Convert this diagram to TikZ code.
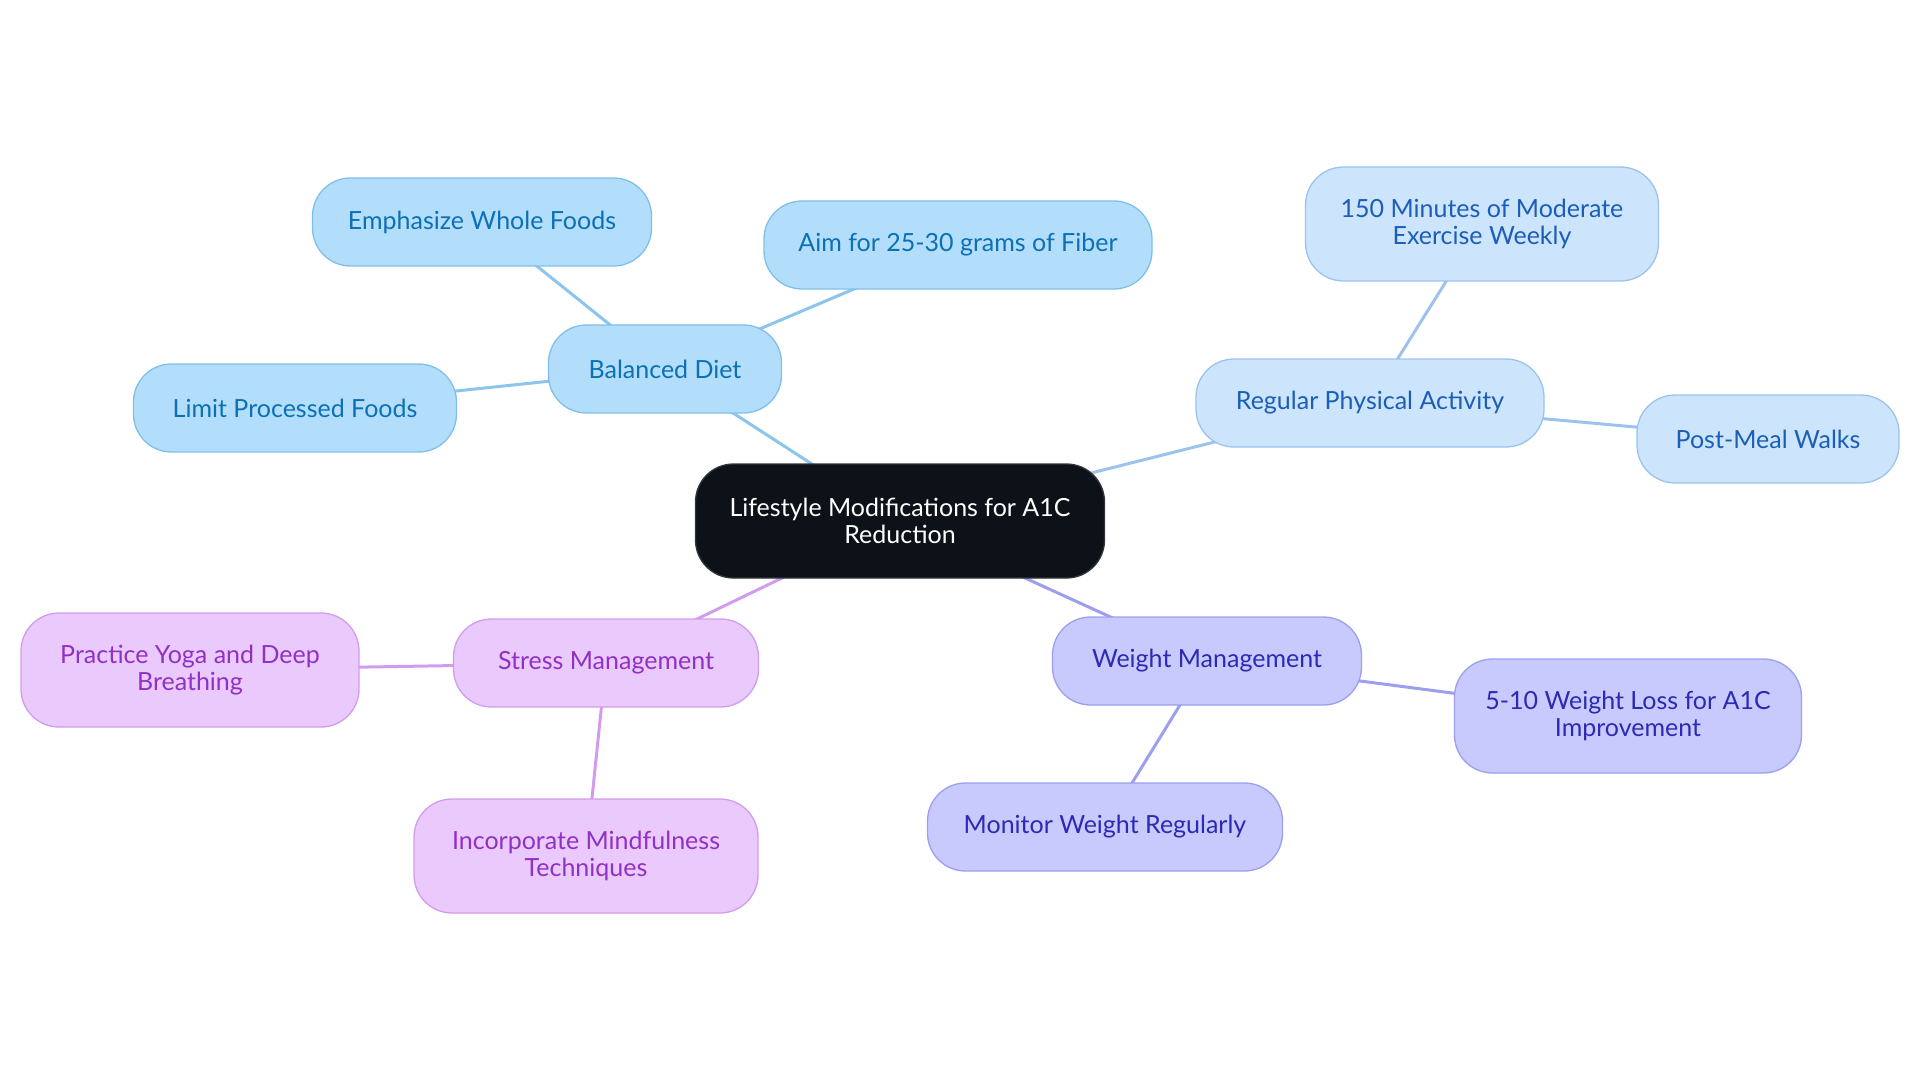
\documentclass[tikz,border=0pt]{standalone}
\usepackage{fontspec}
\setmainfont{Lato}
\usepackage{tikz}
\usetikzlibrary{positioning,shapes,backgrounds}

\definecolor{dietfill}{HTML}{B3DEFB}
\definecolor{dietdraw}{HTML}{7FBFEA}
\definecolor{diettext}{HTML}{0B70B5}
\definecolor{actfill}{HTML}{CCE4FC}
\definecolor{actdraw}{HTML}{9CC3EE}
\definecolor{acttext}{HTML}{1B5EB8}
\definecolor{wtfill}{HTML}{C8CAFD}
\definecolor{wtdraw}{HTML}{9C9EEE}
\definecolor{wttext}{HTML}{2C2AB5}
\definecolor{strfill}{HTML}{EAC9FD}
\definecolor{strdraw}{HTML}{D29CEE}
\definecolor{strtext}{HTML}{9130C4}
\definecolor{rootfill}{HTML}{0D1219}
\definecolor{rootdraw}{HTML}{30353B}

\begin{document}
\begin{tikzpicture}[x=1pt,y=-1pt]
	\tikzset{mnode/.style={rectangle,rounded corners=38pt,draw,line width=1.3pt,
		align=center,inner sep=0pt,minimum height=88pt,
		font=\fontsize{25}{26.5}\selectfont},
		tall/.style={minimum height=114pt},
		diet/.style={mnode,fill=dietfill,draw=dietdraw,text=diettext},
		act/.style={mnode,fill=actfill,draw=actdraw,text=acttext},
		wt/.style={mnode,fill=wtfill,draw=wtdraw,text=wttext},
		str/.style={mnode,fill=strfill,draw=strdraw,text=strtext},
		link/.style={line width=3pt}}
	\useasboundingbox (0,0) rectangle (1920,1083);

	%% root
	\node[mnode,tall,fill=rootfill,draw=rootdraw,text=white,minimum width=409pt] (root) at (900,521)
		{Lifestyle Modifications for A1C\\Reduction};

	%% balanced diet
	\node[diet,minimum width=233pt] (diet) at (665,369) {Balanced Diet};
	\node[diet,minimum width=339pt] (whole) at (482,222) {Emphasize Whole Foods};
	\node[diet,minimum width=388pt] (fiber) at (958,245) {Aim for 25-30 grams of Fiber};
	\node[diet,minimum width=323pt] (limit) at (295,408) {Limit Processed Foods};

	%% physical activity
	\node[act,minimum width=348pt] (activity) at (1370,403) {Regular Physical Activity};
	\node[act,tall,minimum width=353pt] (minutes) at (1482,224) {150 Minutes of Moderate\\Exercise Weekly};
	\node[act,minimum width=262pt] (walks) at (1768,439) {Post-Meal Walks};

	%% weight
	\node[wt,minimum width=309pt] (weight) at (1207,661) {Weight Management};
	\node[wt,tall,minimum width=347pt] (loss) at (1628,716) {5-10 Weight Loss for A1C\\Improvement};
	\node[wt,minimum width=355pt] (monitor) at (1105,827) {Monitor Weight Regularly};

	%% stress
	\node[str,minimum width=305pt] (stress) at (606,663) {Stress Management};
	\node[str,tall,minimum width=338pt] (yoga) at (190,670) {Practice Yoga and Deep\\Breathing};
	\node[str,tall,minimum width=344pt] (mind) at (586,856) {Incorporate Mindfulness\\Techniques};

	%% links, centre to centre, behind the boxes
	\begin{pgfonlayer}{background}
	\path[link,draw=dietdraw!90!white]
		(root.center) edge (diet.center)
		(diet.center) edge (whole.center)
		(diet.center) edge (fiber.center)
		(diet.center) edge (limit.center);
	\path[link,draw=actdraw]
		(root.center) edge (activity.center)
		(activity.center) edge (minutes.center)
		(activity.center) edge (walks.center);
	\path[link,draw=wtdraw]
		(root.center) edge (weight.center)
		(weight.center) edge (loss.center)
		(weight.center) edge (monitor.center);
	\path[link,draw=strdraw]
		(root.center) edge (stress.center)
		(stress.center) edge (yoga.center)
		(stress.center) edge (mind.center);
	\end{pgfonlayer}
\end{tikzpicture}
\end{document}
